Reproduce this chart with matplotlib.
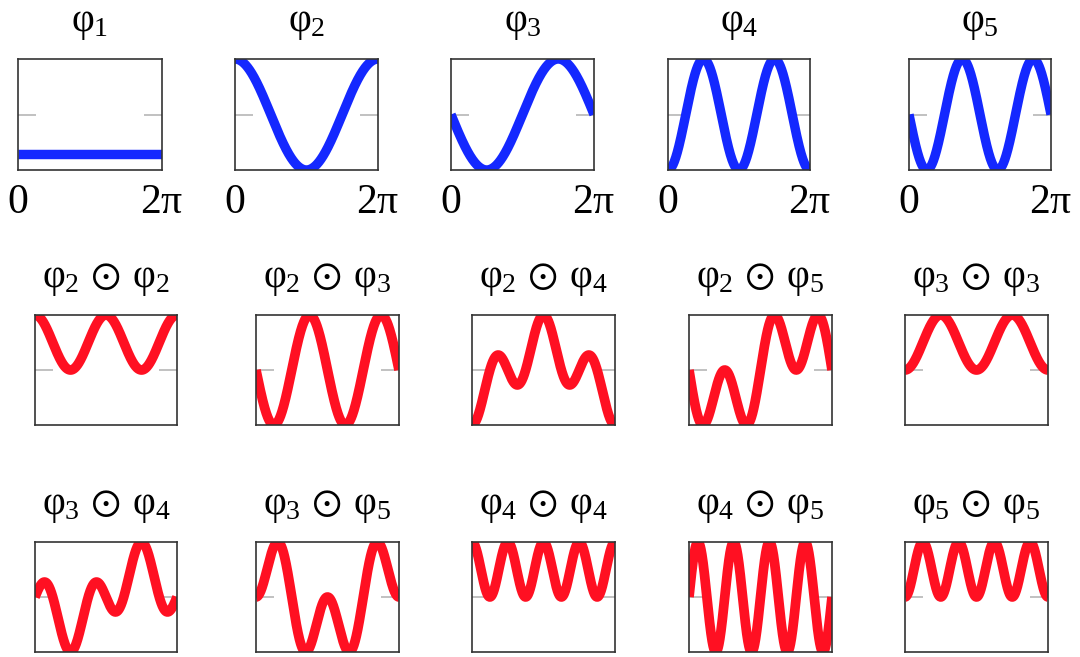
import numpy as np
import matplotlib
matplotlib.use("Agg")
import matplotlib.pyplot as plt

plt.rcParams['mathtext.fontset'] = 'custom'
plt.rcParams['mathtext.rm'] = 'Liberation Serif'
plt.rcParams['mathtext.it'] = 'Liberation Serif'
plt.rcParams['mathtext.bf'] = 'Liberation Serif:bold'
plt.rcParams['mathtext.fallback'] = 'stixsans'
plt.rcParams['font.family'] = ['Liberation Serif', 'DejaVu Serif']

# ---- data ----
basis_names = [r'\varphi_1', r'\varphi_2', r'\varphi_3', r'\varphi_4', r'\varphi_5']
basis_kind = ['const', 'cos', 'sin', 'cos', 'sin']
basis_freq = [0, 1, 1, 2, 2]
basis_amp = [-0.71, 1.0, -1.0, -1.0, -1.0]
product_pairs = [(2, 2), (2, 3), (2, 4), (2, 5), (3, 3),
                 (3, 4), (3, 5), (4, 4), (4, 5), (5, 5)]
xtick_values = [0.0, 2 * np.pi]
xtick_labels = [r'$0$', r'$2\pi$']

# ---- layout (pixel boxes) ----
W, H = 1080, 657
row1_x = [(18, 162), (235, 378), (451, 594), (668, 810), (909, 1051)]
row23_x = [(35, 177), (256, 399), (472, 615), (689, 832), (905, 1048)]
row_y = [(59, 170), (315, 425), (542, 652)]

BLUE = '#1428ff'
RED = '#ff1022'
TICK_GRAY = '#b0b0b0'
SPINE = '#333333'

x = np.linspace(0, 2 * np.pi, 600)


def basis(i):
    k = basis_kind[i]
    if k == 'const':
        return np.full_like(x, basis_amp[i])
    if k == 'cos':
        return basis_amp[i] * np.cos(basis_freq[i] * x)
    return basis_amp[i] * np.sin(basis_freq[i] * x)


fig = plt.figure(figsize=(W / 100, H / 100), dpi=100)


def make_ax(xr, yr):
    x0, x1 = xr
    y0, y1 = yr
    ax = fig.add_axes([x0 / W, 1 - y1 / H, (x1 - x0) / W, (y1 - y0) / H])
    for s in ax.spines.values():
        s.set_color(SPINE)
        s.set_linewidth(1.2)
    ax.set_xlim(0, 2 * np.pi)
    ax.set_yticks([0])
    ax.tick_params(axis='y', direction='in', length=13, width=1.1,
                   color=TICK_GRAY, left=True, right=True,
                   labelleft=False, labelright=False)
    return ax


TITLE_FS = 28.5
TITLE_PAD = 20

# top row: basis functions
for i in range(5):
    ax = make_ax(row1_x[i], row_y[0])
    ax.plot(x, basis(i), color=BLUE, lw=6.8, solid_capstyle='butt')
    ax.set_ylim(-1, 1)
    ax.set_xticks(xtick_values)
    ax.set_xticklabels(xtick_labels, fontsize=30)
    ax.tick_params(axis='x', length=0, pad=10)
    ax.set_title('$' + basis_names[i] + '$', fontsize=TITLE_FS, pad=TITLE_PAD)

# rows 2-3: elementwise products
for n, (a, b) in enumerate(product_pairs):
    r = 1 + n // 5
    c = n % 5
    ax = make_ax(row23_x[c], row_y[r])
    y = basis(a - 1) * basis(b - 1)
    m = np.max(np.abs(y))
    ax.plot(x, y, color=RED, lw=7, solid_capstyle='butt')
    ax.set_ylim(-m, m)
    ax.set_xticks([])
    ax.set_title('$' + basis_names[a - 1] + r'\,\odot\,' + basis_names[b - 1] + '$',
                 fontsize=TITLE_FS, pad=TITLE_PAD)

fig.savefig('out.png', dpi=100, facecolor='white')
